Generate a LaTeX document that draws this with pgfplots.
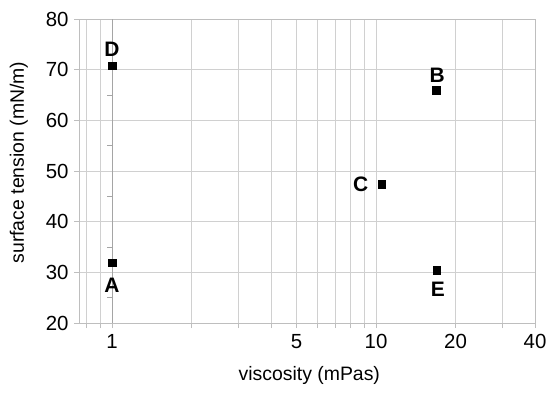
\documentclass[border=0pt]{standalone}
\usepackage{pgfplots}
\pgfplotsset{compat=1.18}
\usepackage{fontspec}
\setmainfont{Liberation Sans}
\definecolor{gridc}{RGB}{208,208,208}
\definecolor{axc}{RGB}{190,190,190}
\definecolor{ax1}{RGB}{165,165,165}
\begin{document}
\begin{tikzpicture}
\begin{axis}[
  scale only axis,
  width=456bp, height=304bp,
  xmode=log,
  xmin=0.75, xmax=40,
  ymin=20, ymax=80,
  xtick={1,5,10,20,40},
  xticklabels={1,5,10,20,40},
  minor xtick={0.8,0.9,2,3,4,6,7,8,9,30},
  ytick={20,30,40,50,60,70,80},
  grid=both,
  major grid style={gridc, line width=0.8bp},
  minor grid style={gridc, line width=0.8bp},
  axis line style={axc, line width=0.8bp},
  tick style={axc, line width=0.8bp},
  tick align=outside,
  major tick length=5bp,
  minor tick length=5bp,
  xtick pos=bottom, ytick pos=left,
  /pgf/number format/assume math mode=true,
  tick label style={font=\fontsize{20.5}{23}\selectfont, text=black},
  xticklabel style={yshift=-3bp},
  yticklabel style={xshift=-2bp},
  label style={font=\fontsize{19.5}{22}\selectfont},
  xlabel={viscosity (mPas)},
  ylabel={surface tension (mN/m)},
  xlabel style={at={(axis description cs:0.505,-0.174)}, anchor=center},
  ylabel style={at={(axis description cs:-0.132,0.528)}, anchor=center, rotate=0},
  clip=false,
]
\draw[ax1, line width=0.9bp] (axis cs:1,20) -- (axis cs:1,80);
\pgfplotsinvokeforeach{25,35,45,55,65}{
  \draw[ax1, line width=0.8bp] (axis cs:1,#1) -- ([xshift=-5bp]axis cs:1,#1);
}
\addplot[only marks, mark=square*, mark size=3.8bp, black] coordinates {
  (1.0,31.9) (16.9,65.9) (10.5,47.4) (1.0,70.8) (17.0,30.4)
};
\begin{scope}[every node/.style={font=\fontsize{21}{24}\selectfont\bfseries, inner sep=0pt, anchor=center}]
\node at (axis cs:1.0,31.9) [yshift=-23bp] {A};
\node at (axis cs:16.9,65.9) [yshift=15bp, xshift=1bp] {B};
\node at (axis cs:10.5,47.4) [xshift=-21bp] {C};
\node at (axis cs:1.0,70.8) [yshift=16bp] {D};
\node at (axis cs:17.0,30.4) [yshift=-19bp, xshift=1bp] {E};
\end{scope}
\end{axis}
\pgfresetboundingbox
\path (current axis.south west) ++(-79bp,-70bp) rectangle ++(550bp,393bp);
\end{tikzpicture}
\end{document}
